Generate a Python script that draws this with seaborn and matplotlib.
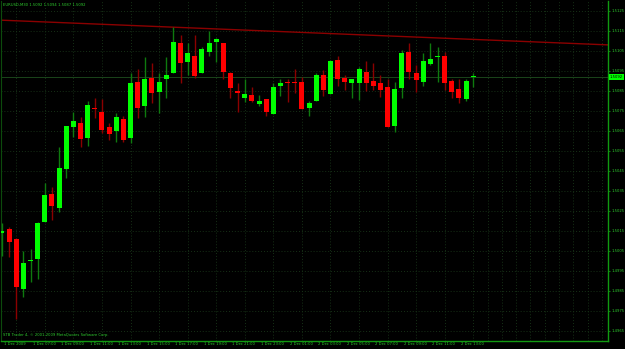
import matplotlib
matplotlib.use("Agg")
import matplotlib.pyplot as plt
import matplotlib.transforms as mtransforms
import seaborn as sns
import numpy as np

# ---------------- data ----------------
title_text = "EURUSD,M30 1.5092 1.5094 1.5087 1.5092"
footer_text = "STB Trader 4, \u00a9 2001-2009 MetaQuotes Software Corp."

opens = [1.50140, 1.50160, 1.50110, 1.49860, 1.50000, 1.50010, 1.50195, 1.50335, 1.50265, 1.50460,
         1.50670, 1.50690, 1.50615, 1.50765, 1.50745, 1.50670, 1.50650, 1.50710, 1.50615, 1.50895,
         1.50775, 1.50915, 1.50845, 1.50910, 1.50940, 1.51090, 1.50995, 1.51025, 1.50940, 1.51045,
         1.51095, 1.51090, 1.50940, 1.50850, 1.50815, 1.50830, 1.50785, 1.50810, 1.50735, 1.50875,
         1.50895, 1.50895, 1.50895, 1.50765, 1.50800, 1.50930, 1.50835, 1.51005, 1.50915, 1.50890,
         1.50890, 1.50945, 1.50900, 1.50890, 1.50870, 1.50675, 1.50865, 1.51045, 1.50940, 1.50895,
         1.50985, 1.51020, 1.51025, 1.50900, 1.50860, 1.50810, 1.50920]
highs = [1.50190, 1.50170, 1.50115, 1.50050, 1.50060, 1.50195, 1.50390, 1.50370, 1.50570, 1.50675,
         1.50745, 1.50720, 1.50800, 1.50815, 1.50810, 1.50690, 1.50740, 1.50725, 1.50940, 1.50960,
         1.51020, 1.50990, 1.50940, 1.51020, 1.51170, 1.51130, 1.51090, 1.51130, 1.51070, 1.51150,
         1.51115, 1.51090, 1.50945, 1.50890, 1.50910, 1.50870, 1.50830, 1.50810, 1.50890, 1.50910,
         1.50910, 1.50960, 1.50920, 1.50800, 1.50940, 1.50955, 1.51005, 1.51025, 1.50930, 1.50910,
         1.50970, 1.51000, 1.50990, 1.50930, 1.50910, 1.50895, 1.51055, 1.51090, 1.50980, 1.51040,
         1.51090, 1.51070, 1.51045, 1.50910, 1.50910, 1.50910, 1.50940]
lows = [1.50025, 1.50020, 1.49710, 1.49820, 1.49895, 1.49910, 1.50195, 1.50205, 1.50245, 1.50415,
        1.50620, 1.50570, 1.50575, 1.50715, 1.50640, 1.50605, 1.50595, 1.50595, 1.50590, 1.50715,
        1.50720, 1.50790, 1.50740, 1.50815, 1.50940, 1.50890, 1.50930, 1.50915, 1.50940, 1.51025,
        1.50995, 1.50910, 1.50815, 1.50745, 1.50795, 1.50795, 1.50775, 1.50725, 1.50735, 1.50825,
        1.50795, 1.50840, 1.50760, 1.50725, 1.50800, 1.50825, 1.50835, 1.50875, 1.50855, 1.50815,
        1.50805, 1.50850, 1.50855, 1.50820, 1.50670, 1.50645, 1.50815, 1.50910, 1.50845, 1.50875,
        1.50980, 1.50895, 1.50855, 1.50815, 1.50790, 1.50800, 1.50870]
closes = [1.50150, 1.50095, 1.49870, 1.49990, 1.50000, 1.50190, 1.50330, 1.50275, 1.50465, 1.50675,
          1.50700, 1.50610, 1.50780, 1.50758, 1.50655, 1.50635, 1.50720, 1.50605, 1.50890, 1.50765,
          1.50910, 1.50840, 1.50895, 1.50930, 1.51095, 1.50990, 1.51040, 1.50925, 1.51060, 1.51090,
          1.51110, 1.50945, 1.50865, 1.50840, 1.50835, 1.50800, 1.50800, 1.50745, 1.50870, 1.50890,
          1.50888, 1.50888, 1.50760, 1.50790, 1.50930, 1.50855, 1.51000, 1.50910, 1.50895, 1.50910,
          1.50960, 1.50890, 1.50875, 1.50855, 1.50670, 1.50860, 1.51040, 1.50945, 1.50905, 1.51000,
          1.51010, 1.51020, 1.50890, 1.50845, 1.50815, 1.50900, 1.50920]

x_tick_bars = [0, 4, 8, 12, 16, 20, 24, 28, 32, 36, 40, 44, 48, 52, 56, 60, 64]
x_tick_labels = ["1 Dec 2009", "1 Dec 07:00", "1 Dec 09:00", "1 Dec 11:00", "1 Dec 13:00",
                 "1 Dec 15:00", "1 Dec 17:00", "1 Dec 19:00", "1 Dec 21:00", "1 Dec 23:00",
                 "2 Dec 01:00", "2 Dec 03:00", "2 Dec 05:00", "2 Dec 07:00", "2 Dec 09:00",
                 "2 Dec 11:00", "2 Dec 13:00"]
y_tick_values = [1.5125, 1.5115, 1.5105, 1.5095, 1.5085, 1.5075, 1.5065, 1.5055, 1.5045,
                 1.5035, 1.5025, 1.5015, 1.5005, 1.4995, 1.4985, 1.4975, 1.4965]
y_tick_labels = ["1.5125", "1.5115", "1.5105", "1.5095", "1.5085", "1.5075", "1.5065", "1.5055",
                 "1.5045", "1.5035", "1.5025", "1.5015", "1.5005", "1.4995", "1.4985", "1.4975",
                 "1.4965"]
current_price = 1.5092
current_label = "1.5092"
trend_bars = [0, 66]
trend_prices = [1.51204, 1.51108]
grid_bars = [2, 6, 10, 14, 18, 22, 26, 30, 34, 38, 42, 46, 50, 54, 58, 62, 66, 68, 70, 72, 74, 76, 78, 80, 82, 84]

# ---------------- style ----------------
sns.set_theme(style="dark", rc={"axes.facecolor": "black", "figure.facecolor": "black"})
plt.rcParams["font.family"] = ["DejaVu Sans"]

BULL = "#00ff00"
BEAR = "#ff0000"
BULL_WICK = "#0e7a0e"
BEAR_WICK = "#8b0000"
FRAME = "#109a10"
TXT = "#2ecc2e"
GRID = "#163016"
FS = 2.7

W, H = 625, 349
fig = plt.figure(figsize=(W / 100, H / 100), dpi=100)
fig.patch.set_facecolor("black")
ax = fig.add_axes([1 / W, 8 / H, 607 / W, 340 / H])
ax.set_facecolor("black")

n = len(opens)
xs = np.arange(n)
o = np.array(opens); c = np.array(closes); h = np.array(highs); l = np.array(lows)
up = c >= o
wick_colors = [BULL_WICK if u else BEAR_WICK for u in up]
body_colors = [BULL if u else BEAR for u in up]

ax.set_xlim(-0.14, 84.87)
ax.set_ylim(1.49600, 1.51300)
for gb in grid_bars:
    ax.axvline(gb, color=GRID, lw=0.7, ls=(0, (1, 2)), zorder=0)
for yv in y_tick_values:
    ax.axhline(yv, color=GRID, lw=0.7, ls=(0, (1, 2)), zorder=0)

# current price line
ax.axhline(current_price, color="#1a451a", lw=0.7, zorder=1)

# trend line
ax.axline((trend_bars[0], trend_prices[0]), (trend_bars[1], trend_prices[1]),
          color="#8b0000", lw=1.0, zorder=2)

# candles
ax.vlines(xs, l, h, colors=wick_colors, lw=1.0, zorder=3)
bottoms = np.minimum(o, c)
heights = np.maximum(np.abs(c - o), 0.00004)
ax.bar(xs, heights, bottom=bottoms, width=0.7, color=body_colors, linewidth=0, zorder=4)

# frame
ax.spines["top"].set_visible(False)
ax.spines["left"].set_visible(True)
ax.spines["left"].set_color("#0c4a0c")
ax.spines["left"].set_linewidth(0.8)
for side in ["right", "bottom"]:
    ax.spines[side].set_visible(True)
    ax.spines[side].set_color(FRAME)
    ax.spines[side].set_linewidth(1.0)
ax.grid(False)

# y axis on right
ax.yaxis.tick_right()
ax.set_yticks(y_tick_values)
ax.set_yticklabels(y_tick_labels)
ax.tick_params(axis="y", colors=FRAME, labelcolor=TXT, length=1.5, width=0.6, pad=0.8,
               labelsize=FS, direction="out")

# x axis
ax.set_xticks(x_tick_bars)
ax.set_xticklabels(x_tick_labels)
ax.tick_params(axis="x", colors=FRAME, labelcolor=TXT, length=3, width=0.6, pad=-2.0,
               labelsize=FS, direction="out")
offset = mtransforms.ScaledTranslation(2 / 100, 0, fig.dpi_scale_trans)
for lab in ax.get_xticklabels():
    lab.set_horizontalalignment("left")
    lab.set_transform(lab.get_transform() + offset)

# current price box
ax.annotate(current_label, xy=(1.0, current_price), xycoords=("axes fraction", "data"),
            xytext=(1.2, 0), textcoords="offset points", va="center", ha="left",
            fontsize=FS, color="black",
            bbox=dict(boxstyle="square,pad=0.2", fc="#00ff00", ec="none"), zorder=10,
            annotation_clip=False)

# title & footer
fig.text(3 / W, 1 - 5 / H, title_text, color=TXT, fontsize=FS, va="center", ha="left")
ax.text(0.003, 0.012, footer_text, transform=ax.transAxes,
        color=TXT, fontsize=FS, va="bottom", ha="left")

fig.savefig("out.png", dpi=100, facecolor="black")
